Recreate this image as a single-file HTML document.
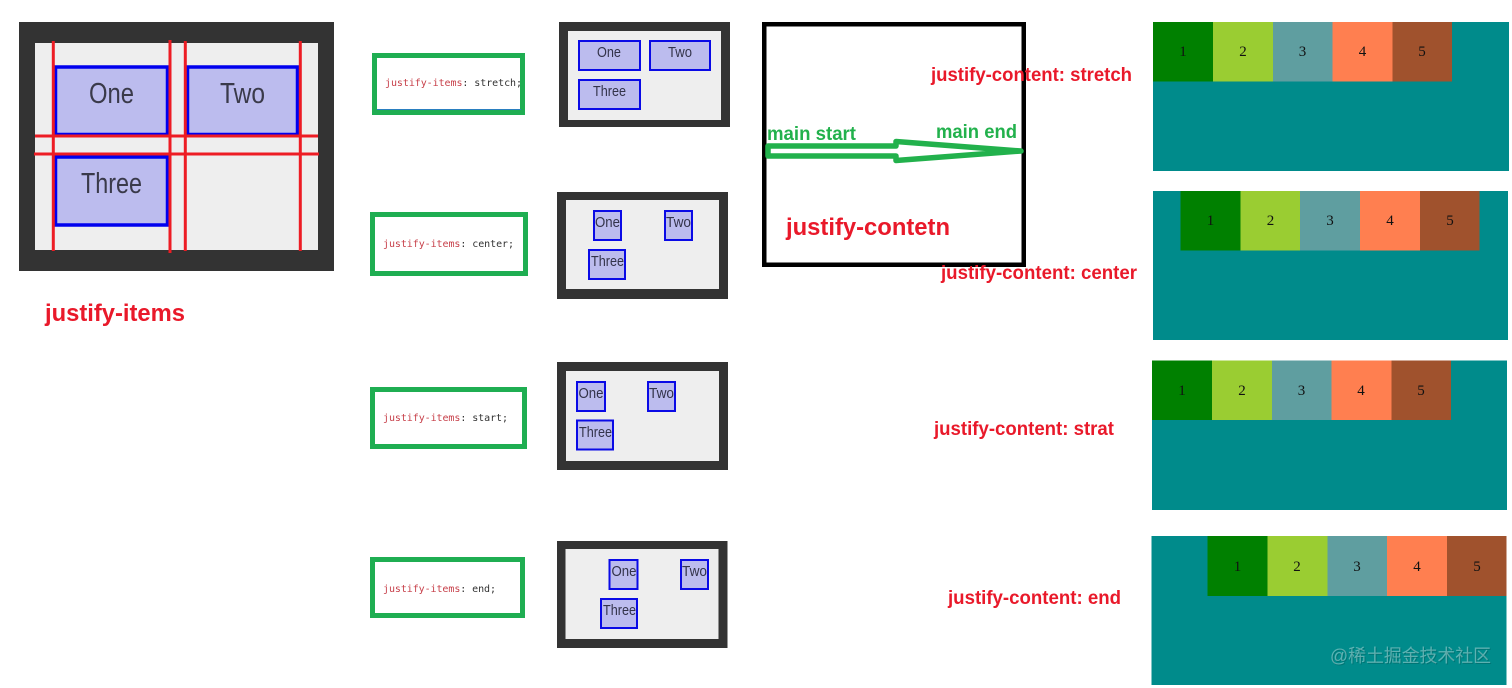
<!DOCTYPE html>
<html lang="zh">
<head>
<meta charset="utf-8">
<title>justify-items and justify-content</title>
<style>
html,body{margin:0;padding:0;background:#fff;width:1512px;height:688px;overflow:hidden}
svg{display:block}
.lab{font-family:"Liberation Sans","Noto Sans CJK SC",sans-serif;font-weight:700;fill:#e9192a}
.grn{font-family:"Liberation Sans",sans-serif;font-weight:700;fill:#22b14c;font-size:19px}
.it{font-family:"Liberation Sans",sans-serif;fill:#33334a;font-size:15px}
.big{font-family:"Liberation Sans",sans-serif;fill:#3a3a4a;font-size:29px}
.code{font-family:"DejaVu Sans Mono","Liberation Mono",monospace;font-size:10px;fill:#333}
.code .k{fill:#c7404a}
.n{font-family:"Liberation Serif",serif;font-size:15px;fill:#111;text-anchor:middle}
.box{fill:#bcbcee;stroke:#0a0ae6;stroke-width:2}
.gb{fill:#fff;stroke:#1fae52;stroke-width:5}
.r{stroke:#ed1c24;stroke-width:3}
</style>
</head>
<body>
<svg width="1512" height="688" viewBox="0 0 1512 688" xmlns="http://www.w3.org/2000/svg">
<rect width="1512" height="688" fill="#fff"/>

<!-- large grid -->
<rect x="19" y="22" width="315" height="249" fill="#333"/>
<rect x="35" y="43" width="283" height="207" fill="#eee"/>
<g fill="#bcbcee" stroke="#0000ee" stroke-width="3.500">
<rect x="55.500" y="67" width="112" height="67.500"/>
<rect x="187.500" y="67" width="110" height="67.500"/>
<rect x="55.500" y="157" width="112" height="68"/>
</g>
<text class="big" x="89" y="103" textLength="45" lengthAdjust="spacingAndGlyphs">One</text>
<text class="big" x="220" y="103" textLength="45" lengthAdjust="spacingAndGlyphs">Two</text>
<text class="big" x="81" y="193" textLength="61" lengthAdjust="spacingAndGlyphs">Three</text>
<g class="r">
<line x1="53.300" y1="41" x2="53.300" y2="251"/>
<line x1="170" y1="40" x2="170" y2="253"/>
<line x1="185.300" y1="41" x2="185.300" y2="251"/>
<line x1="300.300" y1="41" x2="300.300" y2="251"/>
<line x1="35" y1="136" x2="318" y2="136"/>
<line x1="34" y1="154" x2="319" y2="154"/>
</g>
<text class="lab" x="45" y="321" font-size="24" textLength="140" lengthAdjust="spacingAndGlyphs">justify-items</text>

<!-- code boxes -->
<rect class="gb" x="374.500" y="55.500" width="148" height="57"/>
<line x1="377" y1="109.500" x2="521" y2="109.500" stroke="#2a7fc0" stroke-width="1"/>
<rect class="gb" x="372.500" y="214.500" width="153" height="59"/>
<rect class="gb" x="372.500" y="389.500" width="152" height="57"/>
<rect class="gb" x="372.500" y="559.500" width="150" height="56"/>
<text class="code" x="385" y="86" textLength="137"><tspan class="k">justify-items</tspan>: stretch;</text>
<text class="code" x="383" y="247" textLength="131"><tspan class="k">justify-items</tspan>: center;</text>
<text class="code" x="383" y="421" textLength="125"><tspan class="k">justify-items</tspan>: start;</text>
<text class="code" x="383" y="592" textLength="113"><tspan class="k">justify-items</tspan>: end;</text>

<!-- panel 1 -->
<rect x="559" y="22" width="171" height="105" fill="#333"/>
<rect x="568" y="31" width="153" height="89" fill="#eee"/>
<rect class="box" x="579" y="41" width="61" height="29"/>
<rect class="box" x="650" y="41" width="60" height="29"/>
<rect class="box" x="579" y="80" width="61" height="29"/>
<text class="it" x="597" y="57" textLength="24" lengthAdjust="spacingAndGlyphs">One</text>
<text class="it" x="668" y="57" textLength="24" lengthAdjust="spacingAndGlyphs">Two</text>
<text class="it" x="593" y="96" textLength="33" lengthAdjust="spacingAndGlyphs">Three</text>

<!-- panel 2 -->
<rect x="557" y="192" width="171" height="107" fill="#333"/>
<rect x="566" y="200" width="153" height="89" fill="#eee"/>
<rect class="box" x="594" y="211" width="27" height="29"/>
<rect class="box" x="665" y="211" width="27" height="29"/>
<rect class="box" x="589" y="250" width="36" height="29"/>
<text class="it" x="595" y="227" textLength="25" lengthAdjust="spacingAndGlyphs">One</text>
<text class="it" x="666" y="227" textLength="25" lengthAdjust="spacingAndGlyphs">Two</text>
<text class="it" x="591" y="266" textLength="33" lengthAdjust="spacingAndGlyphs">Three</text>

<!-- panel 3 -->
<rect x="557" y="362" width="171" height="108" fill="#333"/>
<rect x="566" y="371" width="153" height="90" fill="#eee"/>
<rect class="box" x="577" y="382" width="28" height="29"/>
<rect class="box" x="648" y="382" width="27" height="29"/>
<rect class="box" x="577" y="420.500" width="36" height="29"/>
<text class="it" x="578.500" y="398" textLength="25" lengthAdjust="spacingAndGlyphs">One</text>
<text class="it" x="649" y="398" textLength="25" lengthAdjust="spacingAndGlyphs">Two</text>
<text class="it" x="579" y="437" textLength="33" lengthAdjust="spacingAndGlyphs">Three</text>

<!-- panel 4 -->
<rect x="557" y="541" width="170.500" height="107" fill="#333"/>
<rect x="565.500" y="549" width="153" height="90" fill="#eee"/>
<rect class="box" x="609.500" y="560" width="28" height="29"/>
<rect class="box" x="681" y="560" width="27" height="29"/>
<rect class="box" x="601" y="599" width="36" height="29"/>
<text class="it" x="611.500" y="576" textLength="25" lengthAdjust="spacingAndGlyphs">One</text>
<text class="it" x="682" y="576" textLength="25" lengthAdjust="spacingAndGlyphs">Two</text>
<text class="it" x="603" y="615" textLength="33" lengthAdjust="spacingAndGlyphs">Three</text>

<!-- black box and arrow -->
<rect x="764.250" y="24.250" width="259.500" height="240.500" fill="#fff" stroke="#000" stroke-width="4.500"/>
<polygon points="768,146 896,146 896,141.500 1021,151 896,160.500 896,156 768,156" fill="#fff" stroke="#22b14c" stroke-width="5.500" stroke-linejoin="round"/>
<text class="grn" x="767" y="140" textLength="89" lengthAdjust="spacingAndGlyphs">main start</text>
<text class="grn" x="936" y="138" textLength="81" lengthAdjust="spacingAndGlyphs">main end</text>
<text class="lab" x="786" y="235" font-size="24" textLength="164" lengthAdjust="spacingAndGlyphs">justify-contetn</text>

<text class="lab" x="931" y="81" font-size="19" textLength="201" lengthAdjust="spacingAndGlyphs">justify-content: stretch</text>
<text class="lab" x="941" y="279" font-size="19" textLength="196" lengthAdjust="spacingAndGlyphs">justify-content: center</text>
<text class="lab" x="934" y="435" font-size="19" textLength="180" lengthAdjust="spacingAndGlyphs">justify-content: strat</text>
<text class="lab" x="948" y="604" font-size="19" textLength="173" lengthAdjust="spacingAndGlyphs">justify-content: end</text>

<!-- flex panel 1 -->
<rect x="1153" y="22" width="356" height="149" fill="#008b8b"/>
<rect x="1153" y="22" width="60" height="59.500" fill="#008000"/>
<rect x="1213" y="22" width="60" height="59.500" fill="#9acd32"/>
<rect x="1273" y="22" width="59.500" height="59.500" fill="#5f9ea0"/>
<rect x="1332.500" y="22" width="60" height="59.500" fill="#ff7f50"/>
<rect x="1392.500" y="22" width="59.500" height="59.500" fill="#a0522d"/>
<text class="n" x="1183" y="56">1</text><text class="n" x="1243" y="56">2</text><text class="n" x="1302.500" y="56">3</text><text class="n" x="1362.500" y="56">4</text><text class="n" x="1422" y="56">5</text>

<!-- flex panel 2 -->
<rect x="1153" y="191" width="355" height="149" fill="#008b8b"/>
<rect x="1180.500" y="191" width="60" height="59.500" fill="#008000"/>
<rect x="1240.500" y="191" width="59.500" height="59.500" fill="#9acd32"/>
<rect x="1300" y="191" width="60" height="59.500" fill="#5f9ea0"/>
<rect x="1360" y="191" width="60" height="59.500" fill="#ff7f50"/>
<rect x="1420" y="191" width="59.500" height="59.500" fill="#a0522d"/>
<text class="n" x="1210.500" y="225">1</text><text class="n" x="1270.500" y="225">2</text><text class="n" x="1330" y="225">3</text><text class="n" x="1390" y="225">4</text><text class="n" x="1450" y="225">5</text>

<!-- flex panel 3 -->
<rect x="1152" y="360.500" width="355" height="149.500" fill="#008b8b"/>
<rect x="1152" y="360.500" width="60" height="59.500" fill="#008000"/>
<rect x="1212" y="360.500" width="60" height="59.500" fill="#9acd32"/>
<rect x="1272" y="360.500" width="59.500" height="59.500" fill="#5f9ea0"/>
<rect x="1331.500" y="360.500" width="60" height="59.500" fill="#ff7f50"/>
<rect x="1391.500" y="360.500" width="59.500" height="59.500" fill="#a0522d"/>
<text class="n" x="1182" y="395">1</text><text class="n" x="1242" y="395">2</text><text class="n" x="1301.500" y="395">3</text><text class="n" x="1361" y="395">4</text><text class="n" x="1421" y="395">5</text>

<!-- flex panel 4 -->
<rect x="1151.500" y="536" width="355" height="149" fill="#008b8b"/>
<rect x="1207.500" y="536" width="60" height="60" fill="#008000"/>
<rect x="1267.500" y="536" width="60" height="60" fill="#9acd32"/>
<rect x="1327.500" y="536" width="59.500" height="60" fill="#5f9ea0"/>
<rect x="1387" y="536" width="60" height="60" fill="#ff7f50"/>
<rect x="1447" y="536" width="59.500" height="60" fill="#a0522d"/>
<text class="n" x="1237.500" y="571">1</text><text class="n" x="1297" y="571">2</text><text class="n" x="1357" y="571">3</text><text class="n" x="1417" y="571">4</text><text class="n" x="1477" y="571">5</text>

<text x="1331" y="663" font-family="&quot;Liberation Sans&quot;,&quot;Noto Sans CJK SC&quot;,sans-serif" font-size="18" fill="#004d4d" fill-opacity="0.35" textLength="161" lengthAdjust="spacingAndGlyphs">@稀土掘金技术社区</text>
<text x="1330" y="662" font-family="&quot;Liberation Sans&quot;,&quot;Noto Sans CJK SC&quot;,sans-serif" font-size="18" fill="#ffffff" fill-opacity="0.36" textLength="161" lengthAdjust="spacingAndGlyphs">@稀土掘金技术社区</text>
</svg>
</body>
</html>
